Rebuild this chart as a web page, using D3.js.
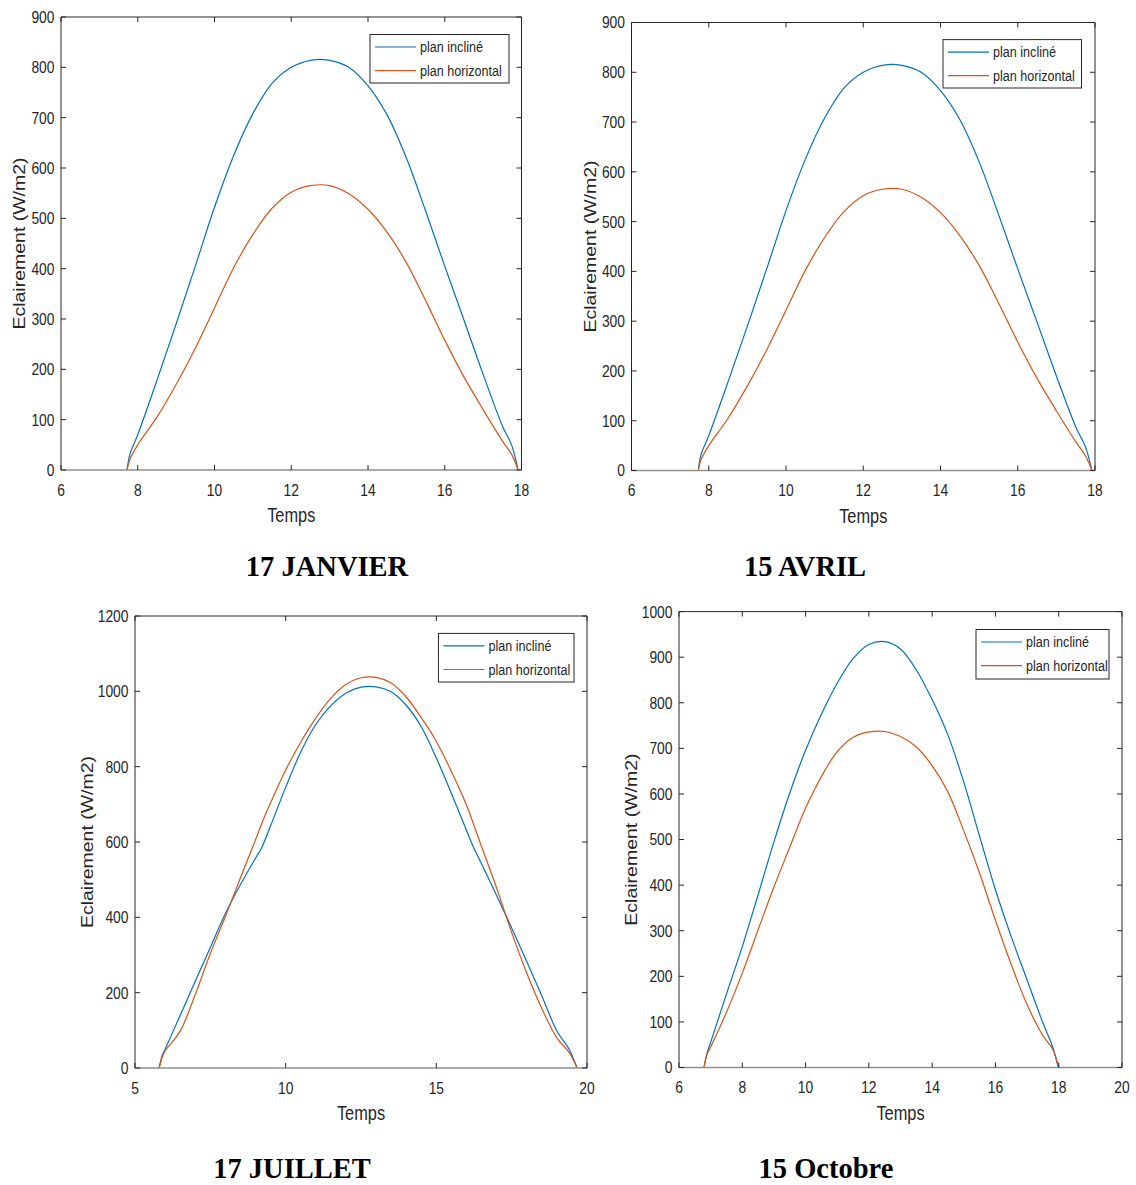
<!DOCTYPE html>
<html>
<head>
<meta charset="utf-8">
<script src="https://cdn.jsdelivr.net/npm/d3@7"></script>
<style>
  html, body { margin: 0; padding: 0; background: #ffffff; }
  svg { display: block; }
</style>
</head>
<body>
<script>
// ---------------- DATA ----------------
const seriesNames = ["plan incliné", "plan horizontal"];
const seriesColors = ["#0072BD", "#D95319"];
const yLabel = "Eclairement (W/m2)";
const xLabel = "Temps";

// 17 JANVIER
const janHours   = [7.72, 7.8, 8, 8.5, 9, 9.5, 10, 10.5, 11, 11.5, 12, 12.5, 13, 13.5, 14, 14.5, 15, 15.5, 16, 16.5, 17, 17.5, 17.75, 17.91];
const janIncline = [0, 32, 70, 178, 290, 405, 522, 625, 708, 768, 800, 814, 814, 800, 763, 705, 620, 515, 405, 298, 190, 88, 48, 0];
const janHoriz   = [0, 22, 50, 105, 170, 242, 322, 402, 468, 520, 552, 565, 565, 549, 518, 472, 412, 337, 258, 185, 120, 58, 30, 0];
const janXTicks  = [6, 8, 10, 12, 14, 16, 18];
const janYTicks  = [0, 100, 200, 300, 400, 500, 600, 700, 800, 900];

// 15 AVRIL
const avrHours   = [7.73, 7.8, 8, 8.5, 9, 9.5, 10, 10.5, 11, 11.5, 12, 12.5, 13, 13.5, 14, 14.5, 15, 15.5, 16, 16.5, 17, 17.5, 17.75, 17.92];
const avrIncline = [0, 32, 70, 178, 290, 405, 522, 625, 708, 768, 800, 814, 814, 800, 763, 705, 620, 515, 405, 298, 190, 88, 48, 0];
const avrHoriz   = [0, 22, 50, 105, 170, 242, 322, 402, 468, 520, 552, 565, 565, 549, 518, 472, 412, 337, 258, 185, 120, 58, 30, 0];
const avrXTicks  = [6, 8, 10, 12, 14, 16, 18];
const avrYTicks  = [0, 100, 200, 300, 400, 500, 600, 700, 800, 900];

// 17 JUILLET
const julHours   = [5.8, 5.91, 6, 6.5, 7, 7.5, 8, 8.5, 9, 9.2, 9.5, 10, 10.5, 11, 11.5, 12, 12.5, 13, 13.5, 14, 14.5, 15, 15.5, 16, 16.2, 16.5, 17, 17.5, 18, 18.5, 19, 19.42, 19.67];
const julIncline = [0, 35, 50, 140, 230, 320, 410, 487, 557, 584, 643, 745, 839, 912, 962, 995, 1011, 1012, 999, 963, 906, 823, 729, 631, 592, 542, 458, 372, 283, 192, 98, 48, 0];
const julHoriz   = [0, 30, 45, 98, 195, 304, 402, 505, 606, 648, 704, 791, 865, 929, 982, 1018, 1036, 1037, 1022, 985, 930, 867, 787, 698, 655, 588, 478, 360, 252, 158, 80, 40, 0];
const julXTicks  = [5, 10, 15, 20];
const julYTicks  = [0, 200, 400, 600, 800, 1000, 1200];

// 15 Octobre
const octHours   = [6.79, 6.88, 7, 7.5, 8, 8.5, 9, 9.5, 10, 10.5, 11, 11.5, 12, 12.5, 13, 13.5, 14, 14.5, 15, 15.5, 16, 16.5, 17, 17.5, 17.81, 17.99];
const octIncline = [0, 30, 55, 161, 265, 379, 495, 602, 696, 775, 843, 897, 928, 934, 918, 872, 807, 729, 626, 507, 390, 287, 192, 98, 45, 0];
const octHoriz   = [0, 28, 45, 121, 207, 302, 396, 483, 569, 638, 693, 724, 736, 737, 726, 703, 662, 604, 519, 426, 323, 226, 138, 70, 40, 0];
const octXTicks  = [6, 8, 10, 12, 14, 16, 18, 20];
const octYTicks  = [0, 100, 200, 300, 400, 500, 600, 700, 800, 900, 1000];

const titles = ["17 JANVIER", "15 AVRIL", "17 JUILLET", "15 Octobre"];

// ---------------- LAYOUT ----------------
const W = 1136, H = 1185;
const SX = 0.84;          // horizontal squeeze of the chart images
const INK = "#262626";
const FONT = "'Liberation Sans', Arial, Helvetica, sans-serif";

const panels = [
  { hours: janHours, s: [janIncline, janHoriz], xd: [6, 18], yd: [0, 900], xt: janXTicks, yt: janYTicks,
    box: { l: 61, r: 521.5, t: 17, b: 470 }, ylOff: 36, leg: { x: 370, y: 34.5, w: 139, h: 48.5 },
    title: titles[0], tx: 327, ty: 576 },
  { hours: avrHours, s: [avrIncline, avrHoriz], xd: [6, 18], yd: [0, 900], xt: avrXTicks, yt: avrYTicks,
    box: { l: 631.5, r: 1095, t: 22.5, b: 470.5 }, ylOff: 36, leg: { x: 943, y: 39.6, w: 138.5, h: 48.4 },
    title: titles[1], tx: 805, ty: 576 },
  { hours: julHours, s: [julIncline, julHoriz], xd: [5, 20], yd: [0, 1200], xt: julXTicks, yt: julYTicks,
    box: { l: 135, r: 587, t: 616, b: 1068 }, ylOff: 42.5, leg: { x: 438.4, y: 633.4, w: 135.6, h: 48.6 },
    title: titles[2], tx: 292, ty: 1178 },
  { hours: octHours, s: [octIncline, octHoriz], xd: [6, 20], yd: [0, 1000], xt: octXTicks, yt: octYTicks,
    box: { l: 679, r: 1122, t: 611.6, b: 1067.5 }, ylOff: 42, leg: { x: 976, y: 629.5, w: 133, h: 49.5 },
    title: titles[3], tx: 826, ty: 1178 }
];

const svg = d3.select("body").append("svg")
  .attr("width", W).attr("height", H)
  .attr("viewBox", `0 0 ${W} ${H}`);

svg.append("rect").attr("width", W).attr("height", H).attr("fill", "#fff");

function sText(g, x, y, str, size, anchor, extra) {
  return g.append("text")
    .attr("transform", `translate(${x},${y}) scale(${SX},1)` + (extra || ""))
    .attr("text-anchor", anchor)
    .attr("font-family", FONT)
    .attr("font-size", size)
    .attr("fill", INK)
    .text(str);
}

panels.forEach(p => {
  const g = svg.append("g");
  const { l, r, t, b } = p.box;
  const x = d3.scaleLinear().domain(p.xd).range([l, r]);
  const y = d3.scaleLinear().domain(p.yd).range([b, t]);

  g.append("rect").attr("x", l).attr("y", t).attr("width", r - l).attr("height", b - t)
    .attr("fill", "#fff");

  const line = d3.line()
    .x(d => x(d[0])).y(d => y(d[1]))
    .curve(d3.curveCatmullRom.alpha(0.5));
  p.s.forEach((vals, i) => {
    const pts = p.hours.map((h, k) => [h, vals[k]]);
    g.append("path").datum(pts)
      .attr("d", line)
      .attr("fill", "none")
      .attr("stroke", seriesColors[i])
      .attr("stroke-width", 1.2)
      .attr("stroke-linejoin", "round");
  });

  g.append("path")
    .attr("d", `M${l},${b}V${t}H${r}V${b}`)
    .attr("fill", "none").attr("stroke", INK).attr("stroke-width", 1);
  g.append("line").attr("x1", l).attr("x2", r).attr("y1", b).attr("y2", b)
    .attr("stroke", "#8f8f8f").attr("stroke-width", 1.4);

  const tl = 5;
  p.xt.forEach(v => {
    const xx = x(v);
    g.append("line").attr("x1", xx).attr("x2", xx).attr("y1", b).attr("y2", b - tl)
      .attr("stroke", INK).attr("stroke-width", 1);
    g.append("line").attr("x1", xx).attr("x2", xx).attr("y1", t).attr("y2", t + tl)
      .attr("stroke", INK).attr("stroke-width", 1);
    sText(g, xx, b + 25.5, d3.format("d")(v), 16.5, "middle");
  });
  p.yt.forEach(v => {
    const yy = y(v);
    g.append("line").attr("x1", l).attr("x2", l + tl).attr("y1", yy).attr("y2", yy)
      .attr("stroke", INK).attr("stroke-width", 1);
    g.append("line").attr("x1", r).attr("x2", r - tl).attr("y1", yy).attr("y2", yy)
      .attr("stroke", INK).attr("stroke-width", 1);
    sText(g, l - 6.5, yy + 5.9, d3.format("d")(v), 16.5, "end");
  });

  sText(g, (l + r) / 2, b + 52, xLabel, 19.5, "middle");
  sText(g, l - p.ylOff, (t + b) / 2, yLabel, 19.5, "middle", " rotate(-90)");

  const L = p.leg;
  g.append("rect").attr("x", L.x).attr("y", L.y).attr("width", L.w).attr("height", L.h)
    .attr("fill", "#fff").attr("stroke", INK).attr("stroke-width", 1);
  seriesNames.forEach((name, i) => {
    const ry = L.y + 12.5 + i * 23.6;
    g.append("line").attr("x1", L.x + 5).attr("x2", L.x + 46).attr("y1", ry).attr("y2", ry)
      .attr("stroke", seriesColors[i]).attr("stroke-width", 1.2);
    sText(g, L.x + 50, ry + 5.3, name, 15, "start");
  });

  g.append("text")
    .attr("x", p.tx).attr("y", p.ty)
    .attr("text-anchor", "middle")
    .attr("font-family", "'Liberation Serif', 'Times New Roman', serif")
    .attr("font-weight", "bold")
    .attr("font-size", 28.5)
    .attr("fill", "#000")
    .text(p.title);
});
</script>
</body>
</html>
